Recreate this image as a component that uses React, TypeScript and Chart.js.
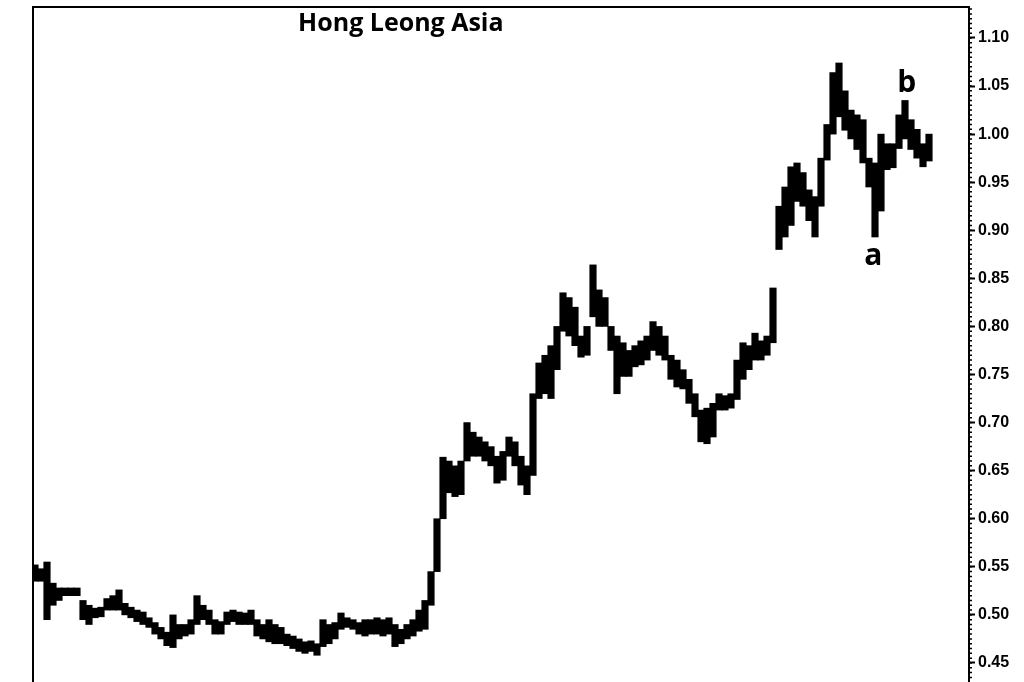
import React, { useEffect, useRef } from "react";
import { Chart, registerables } from "chart.js";

Chart.register(...registerables);

const title = "Hong Leong Asia";

// daily low / high, one entry per bar (left to right)
const lows = [
  0.535, 0.535, 0.495, 0.51, 0.515, 0.52, 0.52, 0.52, 0.495, 0.49,
  0.497, 0.498, 0.505, 0.505, 0.505, 0.5, 0.497, 0.493, 0.49, 0.487,
  0.48, 0.475, 0.468, 0.466, 0.475, 0.478, 0.48, 0.49, 0.495, 0.49,
  0.48, 0.48, 0.49, 0.493, 0.49, 0.49, 0.49, 0.478, 0.475, 0.472,
  0.47, 0.47, 0.468, 0.465, 0.462, 0.46, 0.462, 0.458, 0.467, 0.47,
  0.475, 0.485, 0.487, 0.485, 0.48, 0.478, 0.48, 0.48, 0.478, 0.48,
  0.467, 0.47, 0.475, 0.478, 0.483, 0.485, 0.51, 0.545, 0.6, 0.627,
  0.623, 0.625, 0.66, 0.665, 0.665, 0.66, 0.655, 0.637, 0.64, 0.665,
  0.655, 0.635, 0.625, 0.645, 0.725, 0.73, 0.725, 0.755, 0.795, 0.79,
  0.78, 0.768, 0.77, 0.81, 0.8, 0.8, 0.775, 0.73, 0.748, 0.748,
  0.758, 0.76, 0.765, 0.775, 0.77, 0.765, 0.745, 0.737, 0.735, 0.72,
  0.706, 0.68, 0.678, 0.685, 0.713, 0.713, 0.715, 0.724, 0.745, 0.755,
  0.765, 0.765, 0.77, 0.783, 0.88, 0.893, 0.905, 0.93, 0.925, 0.91,
  0.893, 0.925, 0.973, 1.0, 1.018, 1.004, 0.995, 0.984, 0.97, 0.945,
  0.893, 0.92, 0.963, 0.965, 0.985, 0.995, 0.984, 0.975, 0.966, 0.972,
];

const highs = [
  0.552, 0.548, 0.555, 0.533, 0.528, 0.528, 0.528, 0.528, 0.515, 0.51,
  0.507, 0.508, 0.517, 0.52, 0.526, 0.512, 0.508, 0.505, 0.503, 0.497,
  0.492, 0.487, 0.482, 0.5, 0.49, 0.49, 0.495, 0.52, 0.51, 0.505,
  0.495, 0.493, 0.503, 0.505, 0.503, 0.502, 0.505, 0.495, 0.49, 0.495,
  0.49, 0.487, 0.48, 0.478, 0.475, 0.472, 0.473, 0.47, 0.495, 0.49,
  0.492, 0.502, 0.497, 0.495, 0.492, 0.495, 0.495, 0.497, 0.495, 0.497,
  0.49, 0.485, 0.49, 0.495, 0.505, 0.515, 0.545, 0.6, 0.664, 0.66,
  0.655, 0.66, 0.7, 0.69, 0.685, 0.68, 0.675, 0.665, 0.67, 0.685,
  0.68, 0.665, 0.655, 0.73, 0.762, 0.77, 0.78, 0.8, 0.835, 0.83,
  0.82, 0.79, 0.8, 0.864, 0.838, 0.83, 0.8, 0.79, 0.783, 0.775,
  0.78, 0.785, 0.79, 0.805, 0.8, 0.79, 0.77, 0.765, 0.755, 0.745,
  0.73, 0.713, 0.715, 0.72, 0.73, 0.728, 0.73, 0.765, 0.783, 0.78,
  0.793, 0.785, 0.79, 0.84, 0.925, 0.945, 0.966, 0.97, 0.96, 0.942,
  0.935, 0.975, 1.01, 1.064, 1.074, 1.045, 1.025, 1.02, 1.015, 0.975,
  0.97, 1.0, 0.99, 0.99, 1.02, 1.035, 1.015, 1.005, 0.99, 1.0,
];

const yTicks = [
  0.45, 0.5, 0.55, 0.6, 0.65, 0.7, 0.75, 0.8, 0.85, 0.9, 0.95, 1.0, 1.05, 1.1,
];

// wave labels placed at (bar index, price)
const waveLabels = ["a", "b"];
const waveBars = [139.7, 145.3];
const wavePrices = [0.873, 1.053];

const frameAndText = {
  id: "frameAndText",
  afterDraw(chart: any) {
    const { ctx, chartArea, scales } = chart;
    const x = scales.x;
    const y = scales.y;
    ctx.save();
    ctx.strokeStyle = "#000";
    ctx.lineWidth = 2;
    ctx.beginPath();
    ctx.moveTo(chartArea.left, chartArea.bottom + 4);
    ctx.lineTo(chartArea.left, chartArea.top);
    ctx.lineTo(chartArea.right, chartArea.top);
    ctx.stroke();

    // minor ticks every 0.005
    ctx.lineWidth = 1.5;
    ctx.beginPath();
    for (let k = Math.ceil(y.min / 0.005); k <= Math.floor(y.max / 0.005); k++) {
      const py = y.getPixelForValue(k * 0.005);
      ctx.moveTo(chartArea.right, py);
      ctx.lineTo(chartArea.right + 3, py);
    }
    ctx.stroke();

    ctx.fillStyle = "#000";
    ctx.textAlign = "center";
    ctx.textBaseline = "middle";
    ctx.font = "bold 25px 'Open Sans', sans-serif";
    ctx.fillText(title, chartArea.left + chartArea.width * 0.393, chartArea.top + 17);

    ctx.font = "bold 30px 'Open Sans', sans-serif";
    waveLabels.forEach((label, i) => {
      ctx.fillText(label, x.getPixelForValue(waveBars[i]), y.getPixelForValue(wavePrices[i]));
    });
    ctx.restore();
  },
};

const App: React.FC = () => {
  const chartRef = useRef<HTMLCanvasElement | null>(null);
  const chartInstance = useRef<Chart | null>(null);

  useEffect(() => {
    document.body.style.margin = "0";
    if (!chartRef.current) return;
    if (chartInstance.current) chartInstance.current.destroy();
    const ctx = chartRef.current.getContext("2d");
    if (!ctx) return;

    chartInstance.current = new Chart(ctx, {
      type: "bar",
      data: {
        datasets: [
          {
            data: lows.map((lo, i) => ({ x: i, y: [lo, highs[i]] })) as any,
            backgroundColor: "#000",
            borderWidth: 0,
            barThickness: 6.5,
            grouped: false,
          },
        ],
      },
      options: {
        animation: false,
        responsive: true,
        maintainAspectRatio: false,
        layout: { padding: { left: 33, top: 7, right: 0, bottom: 0 } },
        plugins: {
          legend: { display: false },
          tooltip: { enabled: false },
        },
        scales: {
          x: {
            type: "linear",
            offset: false,
            min: -0.333,
            max: 155.667,
            display: false,
          },
          y: {
            position: "right",
            min: 0.4302,
            max: 1.1322,
            afterBuildTicks: (scale: any) => {
              scale.ticks = yTicks.map((v) => ({ value: v }));
            },
            afterFit: (scale: any) => {
              scale.width = 55;
              scale.paddingTop = 0;
              scale.paddingBottom = 0;
            },
            border: { display: true, color: "#000", width: 2 },
            grid: {
              drawOnChartArea: false,
              drawTicks: true,
              tickLength: 6,
              tickWidth: 2,
              tickColor: "#000",
            },
            ticks: {
              color: "#000",
              padding: 3,
              font: { family: "'Liberation Sans', Arial, sans-serif", size: 16, weight: "bold" },
              callback: (value) => Number(value).toFixed(2),
            },
          },
        },
      },
      plugins: [frameAndText],
    });

    return () => {
      if (chartInstance.current) {
        chartInstance.current.destroy();
        chartInstance.current = null;
      }
    };
  }, []);

  return (
    <div style={{ position: "relative", width: 1024, height: 682, background: "#fff" }}>
      <canvas ref={chartRef}></canvas>
    </div>
  );
};

export default App;
